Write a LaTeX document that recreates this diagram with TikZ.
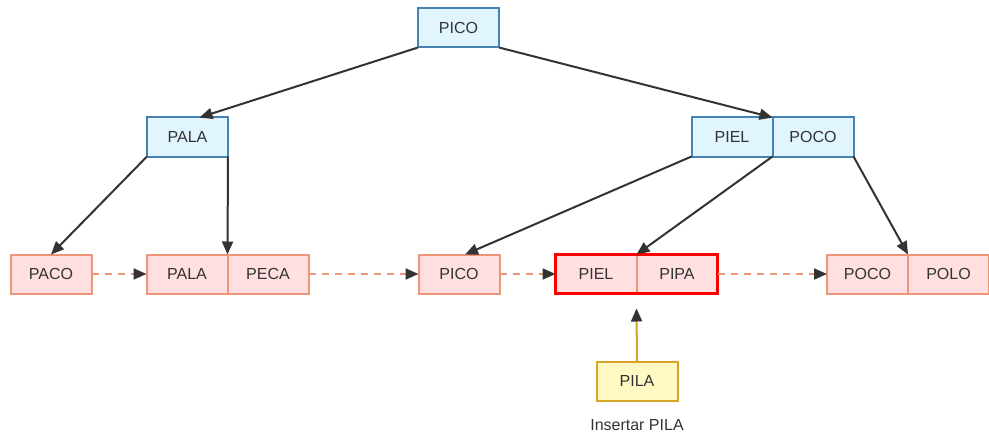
\documentclass[tikz,border=0pt]{standalone}
\usepackage{fontspec}
\setmainfont{Liberation Sans}
\usetikzlibrary{arrows.meta}
\definecolor{inFill}{HTML}{E1F5FE}
\definecolor{inDraw}{HTML}{4682B4}
\definecolor{lfFill}{HTML}{FFDFDF}
\definecolor{lfDraw}{HTML}{EE9577}
\definecolor{ylFill}{HTML}{FFF9C4}
\definecolor{ylDraw}{HTML}{D6A528}
\definecolor{ink}{HTML}{333333}
\begin{document}
\begin{tikzpicture}[x=1pt,y=-1pt,
  box/.style={line width=2pt, minimum width=81pt, minimum height=39pt, inner sep=0pt,
    outer sep=0pt, text=ink, font=\fontsize{16}{18}\selectfont},
  inode/.style={box, draw=inDraw, fill=inFill},
  lnode/.style={box, draw=lfDraw, fill=lfFill},
  ynode/.style={box, draw=ylDraw, fill=ylFill},
  tip/.style={-{Triangle[length=13pt,width=11pt,color=ink]}},
  tree/.style={draw=ink, line width=2pt, tip},
  chain/.style={draw=lfDraw, line width=2pt, dash pattern=on 7pt off 6pt, tip},
  ins/.style={draw=ylDraw, line width=2pt, tip},
  hilite/.style={draw=red, line width=3pt}
]
\useasboundingbox (0,0) rectangle (989,436);
% internal nodes
\node[inode] (root) at (458.5,28) {PICO};
\node[inode] (ipala) at (187.5,137) {PALA};
\node[inode] (ipiel) at (732,137) {PIEL};
\node[inode, anchor=west] (ipoco) at (ipiel.east) {POCO};
% leaves
\node[lnode] (lpaco) at (51,274) {PACO};
\node[lnode] (lpala) at (187,274) {PALA};
\node[lnode, anchor=west] (lpeca) at (lpala.east) {PECA};
\node[lnode] (lpico) at (459,274) {PICO};
\node[lnode] (lpiel) at (596,274) {PIEL};
\node[lnode, anchor=west] (lpipa) at (lpiel.east) {PIPA};
\node[lnode] (lpoco) at (867.5,274) {POCO};
\node[lnode, anchor=west] (lpolo) at (lpoco.east) {POLO};
\draw[hilite] (lpiel.north west) rectangle (lpipa.south east);
% new key
\node[ynode] (pila) at (637,381) {PILA};
\node[text=ink, font=\fontsize{16}{18}\selectfont, anchor=base] (lbl) at (637,430) {Insertar PILA};
% tree links
\draw[tree] (root.south west) -- ([xshift=12pt]ipala.north);
\draw[tree] (root.south east) -- (ipiel.north east);
\draw[tree] (ipala.south west) -- (lpaco.north);
\draw[tree] (ipala.south east) -- (lpala.north east);
\draw[tree] (ipiel.south west) -- ([xshift=6pt]lpico.north);
\draw[tree] (ipiel.south east) -- (lpiel.north east);
\draw[tree] (ipoco.south east) -- (lpoco.north east);
% leaf chain
\draw[chain] (lpaco.east) -- (lpala.west);
\draw[chain] (lpeca.east) -- (lpico.west);
\draw[chain] (lpico.east) -- (lpiel.west);
\draw[chain] (lpipa.east) -- (lpoco.west);
% insert arrow
\draw[ins] (pila.north) -- ([yshift=-15pt]lpiel.south east);
\end{tikzpicture}
\end{document}
